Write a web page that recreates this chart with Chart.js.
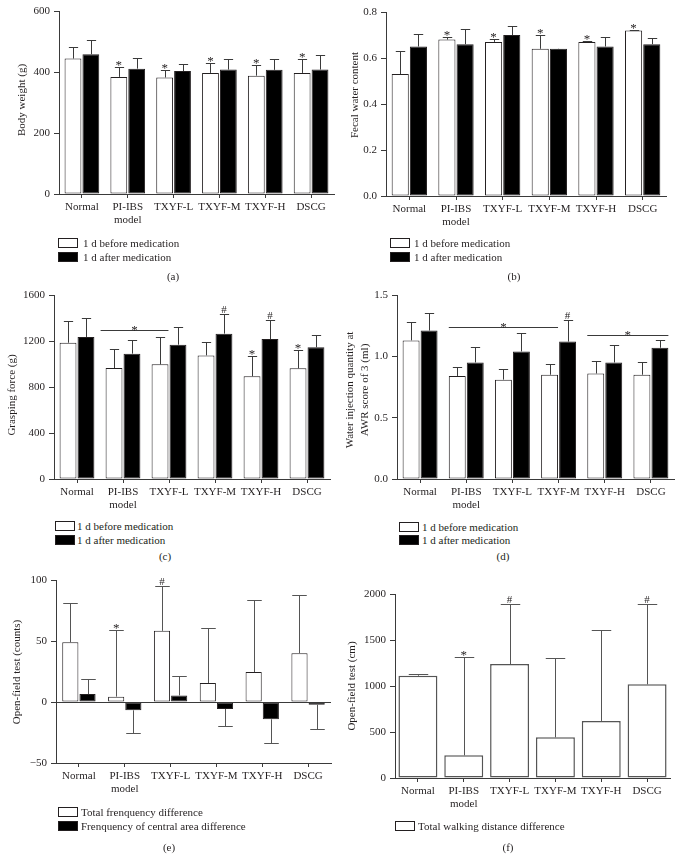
<!DOCTYPE html>
<html lang="en">
<head>
  <meta charset="UTF-8" />
  <title>Medication effects</title>
  <style>
    body { margin: 0; background: #fff; }
    #page { position: relative; width: 683px; height: 868px; overflow: hidden;
            font-family: 'Liberation Serif', 'Times New Roman', serif; color: #231f20; }
    canvas { position: absolute; }
    .box { position: absolute; width: 18px; height: 8px; border: 1px solid #231f20; background: #fff; }
    .box.dark { background: #000; }
    .txt { position: absolute; font-size: 11px; line-height: 12px; white-space: nowrap; }
    .cap { position: absolute; width: 40px; text-align: center; font-size: 11px; line-height: 12px; }
  </style>
</head>
<body>
<div id="page">
  <canvas id="chartA"></canvas>
  <canvas id="chartB"></canvas>
  <canvas id="chartC"></canvas>
  <canvas id="chartD"></canvas>
  <canvas id="chartE"></canvas>
  <canvas id="chartF"></canvas>

  <div class="box" style="left:58px;top:238px"></div><div class="txt" style="left:83px;top:237px">1 d before medication</div>
  <div class="box dark" style="left:58px;top:252px"></div><div class="txt" style="left:83px;top:251px">1 d after medication</div>
  <div class="cap" style="left:153px;top:270px">(a)</div>

  <div class="box" style="left:390px;top:238px"></div><div class="txt" style="left:414px;top:237px">1 d before medication</div>
  <div class="box dark" style="left:390px;top:252px"></div><div class="txt" style="left:414px;top:251px">1 d after medication</div>
  <div class="cap" style="left:494px;top:270px">(b)</div>

  <div class="box" style="left:55px;top:521px"></div><div class="txt" style="left:77px;top:520px">1 d before medication</div>
  <div class="box dark" style="left:55px;top:535px"></div><div class="txt" style="left:77px;top:534px">1 d after medication</div>
  <div class="cap" style="left:145px;top:550px">(c)</div>

  <div class="box" style="left:399px;top:522px"></div><div class="txt" style="left:422px;top:521px">1 d before medication</div>
  <div class="box dark" style="left:399px;top:535px"></div><div class="txt" style="left:422px;top:534px">1 d after medication</div>
  <div class="cap" style="left:483px;top:550px">(d)</div>

  <div class="box" style="left:58px;top:807px"></div><div class="txt" style="left:81px;top:806px">Total frenquency difference</div>
  <div class="box dark" style="left:58px;top:821px"></div><div class="txt" style="left:81px;top:820px">Frenquency of central area difference</div>
  <div class="cap" style="left:149px;top:841px">(e)</div>

  <div class="box" style="left:395px;top:821px"></div><div class="txt" style="left:418px;top:820px">Total walking distance difference</div>
  <div class="cap" style="left:488px;top:841px">(f)</div>
</div>

<script src="https://cdn.jsdelivr.net/npm/chart.js@4.4.1/dist/chart.umd.min.js"></script>
<script>
  const categories = ['Normal', ['PI-IBS', 'model'], 'TXYF-L', 'TXYF-M', 'TXYF-H', 'DSCG'];

  // (a) body weight (g)
  const weightBefore = [444, 384, 382, 397, 388, 397];
  const weightBeforeSd = [38, 33, 24, 33, 34, 46];
  const weightAfter = [458, 411, 403, 408, 407, 408];
  const weightAfterSd = [46, 35, 24, 36, 35, 47];
  const weightBeforeMarks = ['', '*', '*', '*', '*', '*'];

  // (b) fecal water content
  const waterBefore = [0.53, 0.68, 0.67, 0.64, 0.67, 0.72];
  const waterBeforeSd = [0.10, 0.012, 0.011, 0.062, 0.002, 0.001];
  const waterAfter = [0.65, 0.66, 0.70, 0.64, 0.65, 0.66];
  const waterAfterSd = [0.053, 0.065, 0.041, 0, 0.04, 0.029];
  const waterBeforeMarks = ['', '*', '*', '*', '*', '*'];

  // (c) grasping force (g)
  const gripBefore = [1185, 965, 997, 1075, 893, 962];
  const gripBeforeSd = [185, 165, 238, 119, 179, 163];
  const gripAfter = [1235, 1090, 1168, 1264, 1217, 1145];
  const gripAfterSd = [162, 116, 154, 174, 169, 107];
  const gripBeforeMarks = ['', '', '', '', '*', '*'];
  const gripAfterMarks = ['', '', '', '#', '#', ''];

  // (d) water injection quantity at AWR score of 3 (ml)
  const awrBefore = [1.13, 0.84, 0.81, 0.85, 0.86, 0.85];
  const awrBeforeSd = [0.15, 0.07, 0.09, 0.09, 0.10, 0.10];
  const awrAfter = [1.21, 0.95, 1.04, 1.12, 0.95, 1.07];
  const awrAfterSd = [0.14, 0.13, 0.15, 0.18, 0.14, 0.06];
  const awrAfterMarks = ['', '', '', '#', '', ''];

  // (e) open-field counts
  const totalFreq = [49, 4.4, 58.3, 15.5, 24.5, 40];
  const totalFreqSd = [32, 55, 37, 45.5, 59, 47.5];
  const centralFreq = [6.5, -6.8, 5.4, -5.7, -14.2, -2.2];
  const centralFreqSd = [12.5, 18.8, 15.6, 13.6, 19.8, 19.8];
  const totalFreqMarks = ['', '*', '#', '', '', ''];

  // (f) open-field walking distance (cm)
  const walkDist = [1112, 246, 1239, 442, 620, 1018];
  const walkDistSd = [18, 1066, 649, 862, 985, 877];
  const walkDistMarks = ['', '*', '#', '', '', '#'];

  const ink = '#231f20';
  const axisColor = '#3a3a3a';
  Chart.defaults.font.family = "'Liberation Serif', 'Times New Roman', serif";
  Chart.defaults.font.size = 11;
  Chart.defaults.color = ink;

  // error bars, significance marks, brackets, zero line and y title
  const errorBarPlugin = {
    id: 'errorBars',
    afterDatasetsDraw(chart, args, opts) {
      const ctx = chart.ctx;
      const yScale = chart.scales.y;
      const area = chart.chartArea;
      ctx.save();
      ctx.lineWidth = 1;
      ctx.strokeStyle = opts.color;
      if (opts.zeroLine) {
        const y0 = Math.round(yScale.getPixelForValue(0)) + 0.5;
        ctx.strokeStyle = axisColor;
        ctx.beginPath();
        ctx.moveTo(area.left, y0);
        ctx.lineTo(area.right, y0);
        ctx.stroke();
        ctx.strokeStyle = opts.color;
      }
      ctx.fillStyle = ink;
      ctx.textAlign = 'center';
      ctx.textBaseline = 'alphabetic';
      chart.data.datasets.forEach((ds, di) => {
        const meta = chart.getDatasetMeta(di);
        meta.data.forEach((bar, i) => {
          const v = ds.data[i];
          const end = v >= 0 ? v + ds.sd[i] : v - ds.sd[i];
          const yv = yScale.getPixelForValue(v);
          const ye = Math.round(yScale.getPixelForValue(end)) + 0.5;
          const x = Math.round(bar.x) + 0.5;
          const half = bar.width * opts.cap / 2;
          ctx.beginPath();
          ctx.moveTo(x, yv);
          ctx.lineTo(x, ye);
          ctx.moveTo(x - half, ye);
          ctx.lineTo(x + half, ye);
          ctx.stroke();
          const mark = ds.marks && ds.marks[i];
          if (mark) {
            ctx.font = mark === '*' ? "13px 'Liberation Serif', serif" : "11px 'Liberation Serif', serif";
            ctx.fillText(mark, bar.x, mark === '*' ? ye + 1 : ye - 2);
          }
        });
      });
      ctx.font = "13px 'Liberation Serif', serif";
      (opts.brackets || []).forEach(b => {
        const b0 = chart.getDatasetMeta(b.from[1]).data[b.from[0]];
        const b1 = chart.getDatasetMeta(b.to[1]).data[b.to[0]];
        const x0 = b0.x - b0.width / 2 - (b.pad || 0);
        const x1 = b1.x + b1.width / 2;
        const y = Math.round(yScale.getPixelForValue(b.value)) + 0.5;
        ctx.beginPath();
        ctx.moveTo(x0, y);
        ctx.lineTo(x1, y);
        ctx.stroke();
        ctx.fillText(b.label, (x0 + x1) / 2, y + 3);
      });
      if (opts.title) {
        const t = opts.title;
        ctx.font = "11px 'Liberation Serif', serif";
        ctx.save();
        ctx.translate(t.x, t.y);
        ctx.rotate(-Math.PI / 2);
        ctx.textBaseline = 'middle';
        t.lines.forEach((line, k) => ctx.fillText(line, 0, k * t.gap));
        ctx.restore();
      }
      ctx.restore();
    }
  };

  function panel(id, box, setup) {
    const canvas = document.getElementById(id);
    canvas.width = box.w;
    canvas.height = box.h;
    canvas.style.left = box.x + 'px';
    canvas.style.top = box.y + 'px';
    const yWidth = box.L - box.x;
    const xHeight = box.y + box.h - box.B;
    const title = setup.title;
    return new Chart(canvas, {
      type: 'bar',
      data: { labels: categories, datasets: setup.datasets },
      options: {
        responsive: false,
        animation: false,
        layout: { padding: { left: 0, top: box.T - box.y, right: box.x + box.w - box.R, bottom: 0 } },
        plugins: {
          legend: { display: false },
          tooltip: { enabled: false },
          errorBars: {
            cap: setup.cap,
            color: setup.errColor || '#3a3a3a',
            brackets: setup.brackets,
            zeroLine: setup.zeroLine,
            title: { lines: title.lines, x: title.x - box.x, y: title.y - box.y, gap: 15 }
          }
        },
        scales: {
          x: {
            grid: { offset: false, drawOnChartArea: false, tickLength: 4, color: axisColor },
            border: { color: axisColor, width: 1 },
            ticks: { padding: 3, maxRotation: 0, autoSkip: false, font: { lineHeight: 1.15 } },
            afterFit(s) { s.height = xHeight; }
          },
          y: {
            min: setup.min,
            max: setup.max,
            grid: { drawOnChartArea: false, tickLength: 5, color: axisColor },
            border: { color: axisColor, width: 1 },
            ticks: { stepSize: setup.step, padding: 4, callback: setup.fmt },
            afterFit(s) { s.width = yWidth; }
          }
        }
      },
      plugins: [errorBarPlugin]
    });
  }

  const pairStyle = { categoryPercentage: 0.78, barPercentage: 0.94, borderWidth: 1, borderColor: ink, borderSkipped: false };
  const white = Object.assign({ backgroundColor: '#ffffff' }, pairStyle);
  const black = Object.assign({ backgroundColor: '#000000' }, pairStyle);
  const intFmt = v => (v < 0 ? '\u2212' + Math.abs(v) : String(v));
  const decFmt = v => v.toFixed(1);

  panel('chartA', { x: 0, y: 0, w: 340, h: 232, L: 59, R: 334, T: 11, B: 194 }, {
    min: 0, max: 600, step: 200, fmt: intFmt, cap: 0.55,
    title: { lines: ['Body weight (g)'], x: 22, y: 100 },
    datasets: [
      Object.assign({ label: '1 d before medication', data: weightBefore, sd: weightBeforeSd, marks: weightBeforeMarks }, white),
      Object.assign({ label: '1 d after medication', data: weightAfter, sd: weightAfterSd }, black)
    ]
  });

  panel('chartB', { x: 340, y: 0, w: 343, h: 232, L: 386, R: 666, T: 12, B: 196 }, {
    min: 0, max: 0.8, step: 0.2, fmt: decFmt, cap: 0.55,
    title: { lines: ['Fecal water content'], x: 355, y: 95 },
    datasets: [
      Object.assign({ label: '1 d before medication', data: waterBefore, sd: waterBeforeSd, marks: waterBeforeMarks }, white),
      Object.assign({ label: '1 d after medication', data: waterAfter, sd: waterAfterSd }, black)
    ]
  });

  panel('chartC', { x: 0, y: 280, w: 340, h: 235, L: 54, R: 330, T: 295, B: 479 }, {
    min: 0, max: 1600, step: 400, fmt: intFmt, cap: 0.55,
    title: { lines: ['Grasping force (g)'], x: 12, y: 395 },
    brackets: [{ from: [1, 0], to: [2, 0], value: 1293, label: '*', pad: 5 }],
    datasets: [
      Object.assign({ label: '1 d before medication', data: gripBefore, sd: gripBeforeSd, marks: gripBeforeMarks }, white),
      Object.assign({ label: '1 d after medication', data: gripAfter, sd: gripAfterSd, marks: gripAfterMarks }, black)
    ]
  });

  panel('chartD', { x: 340, y: 280, w: 343, h: 235, L: 397, R: 674, T: 295, B: 479 }, {
    min: 0, max: 1.5, step: 0.5, fmt: decFmt, cap: 0.55,
    title: { lines: ['Water injection quantity at', 'AWR score of 3 (ml)'], x: 350, y: 390 },
    brackets: [
      { from: [1, 0], to: [3, 0], value: 1.238, label: '*' },
      { from: [4, 0], to: [5, 1], value: 1.173, label: '*' }
    ],
    datasets: [
      Object.assign({ label: '1 d before medication', data: awrBefore, sd: awrBeforeSd }, white),
      Object.assign({ label: '1 d after medication', data: awrAfter, sd: awrAfterSd, marks: awrAfterMarks }, black)
    ]
  });

  panel('chartE', { x: 0, y: 565, w: 340, h: 235, L: 56, R: 331, T: 580, B: 763 }, {
    min: -50, max: 100, step: 50, fmt: intFmt, cap: 0.9, zeroLine: true, errColor: '#555',
    title: { lines: ['Open-field test (counts)'], x: 17, y: 672 },
    datasets: [
      Object.assign({ label: 'Total frenquency difference', data: totalFreq, sd: totalFreqSd, marks: totalFreqMarks }, white, { categoryPercentage: 0.75 }),
      Object.assign({ label: 'Frenquency of central area difference', data: centralFreq, sd: centralFreqSd }, black, { categoryPercentage: 0.75 })
    ]
  });

  panel('chartF', { x: 340, y: 575, w: 343, h: 240, L: 395, R: 670, T: 594, B: 778 }, {
    min: 0, max: 2000, step: 500, fmt: intFmt, cap: 0.5, errColor: '#555',
    title: { lines: ['Open-field test (cm)'], x: 352, y: 686 },
    datasets: [{
      label: 'Total walking distance difference', data: walkDist, sd: walkDistSd, marks: walkDistMarks,
      backgroundColor: '#ffffff', borderColor: '#555', borderWidth: 1.5, borderSkipped: false,
      categoryPercentage: 0.85, barPercentage: 1
    }]
  });
</script>
</body>
</html>
